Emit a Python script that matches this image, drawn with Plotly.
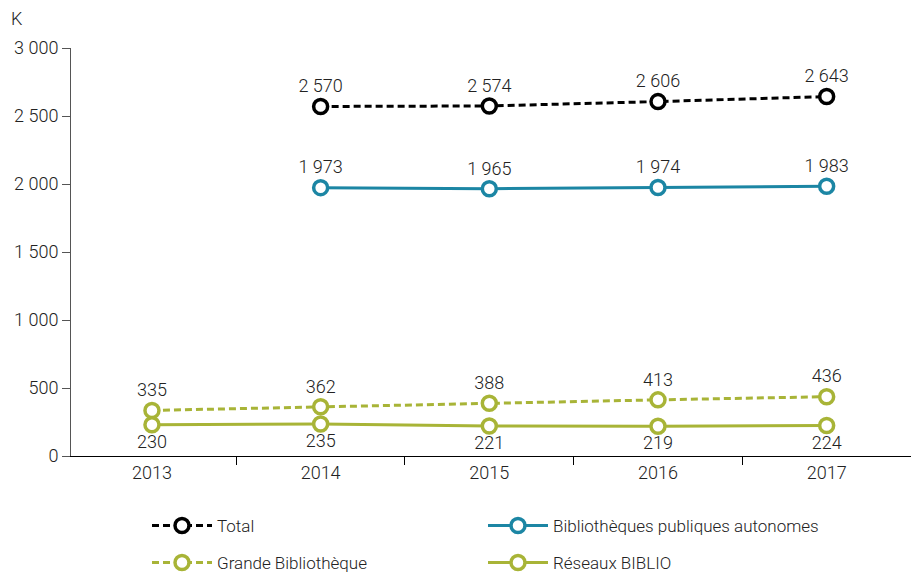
import plotly.graph_objects as go

years = ["2013", "2014", "2015", "2016", "2017"]
total = [None, 2570, 2574, 2606, 2643]
bpa = [None, 1973, 1965, 1974, 1983]
grande = [335, 362, 388, 413, 436]
reseaux = [230, 235, 221, 219, 224]

BLACK = "#000000"
TEAL = "#1c86a4"
OLIVE = "#a8b437"
FONT = "Roboto"
TXT = "#222222"

fig = go.Figure()

def add(name, y, color, dash, pos, legend):
    fig.add_trace(go.Scatter(
        x=years, y=y, name=name, mode="lines+markers+text",
        line=dict(color=color, width=3, dash=dash),
        marker=dict(symbol="circle", size=14, color="white",
                    line=dict(color=color, width=3.5)),
        texttemplate="%{y:,.0f}", textposition=pos,
        textfont=dict(family=FONT, size=18, color=TXT, weight=300),
        legend=legend, connectgaps=False,
    ))

add("Total", total, BLACK, "7px,4px", "top center", "legend")
add("Bibliothèques publiques autonomes", bpa, TEAL, "solid", "top center", "legend")
add("Grande Bibliothèque", grande, OLIVE, "7px,4px", "top center", "legend2")
add("Réseaux BIBLIO", reseaux, OLIVE, "solid", "bottom center", "legend2")

legend_common = dict(
    orientation="h", entrywidth=261, entrywidthmode="pixels",
    xref="container", yref="container", x=147 / 911, xanchor="left",
    yanchor="middle", font=dict(family=FONT, size=17, color=TXT, weight=300),
    bgcolor="rgba(0,0,0,0)", itemwidth=60,
)

fig.update_layout(
    width=911, height=575,
    margin=dict(l=71, r=0, t=48, b=119),
    plot_bgcolor="white", paper_bgcolor="white",
    separators=", ",
    font=dict(family=FONT, size=18, color=TXT, weight=300),
    showlegend=True,
    legend=dict(legend_common, y=1 - 526 / 575),
    legend2=dict(legend_common, y=1 - 563 / 575),
    xaxis=dict(
        type="category", range=[-0.48, 4.5],
        showgrid=False, zeroline=False,
        showline=True, linecolor="#000000", linewidth=1,
        ticks="outside", tickson="boundaries", ticklen=8, tickcolor="#000000",
        tickfont=dict(family=FONT, size=18, color=TXT, weight=300),
    ),
    yaxis=dict(
        range=[0, 3000], tickvals=[0, 500, 1000, 1500, 2000, 2500, 3000],
        tickformat=",.0f",
        showgrid=False, zeroline=False,
        showline=True, linecolor="#555555", linewidth=1,
        ticks="outside", ticklen=8, tickcolor="#555555",
        tickfont=dict(family=FONT, size=18, color=TXT, weight=300),
    ),
    annotations=[dict(
        text="K", xref="paper", yref="paper",
        x=(9 - 71) / 840, y=(456 - 18) / 408, xanchor="left", yanchor="middle",
        showarrow=False, font=dict(family=FONT, size=18, color=TXT, weight=300),
    )],
)

fig.write_html(
    "out.html",
    config={"displayModeBar": False},
    post_script="document.body.style.margin='0';document.body.style.padding='0';",
)
